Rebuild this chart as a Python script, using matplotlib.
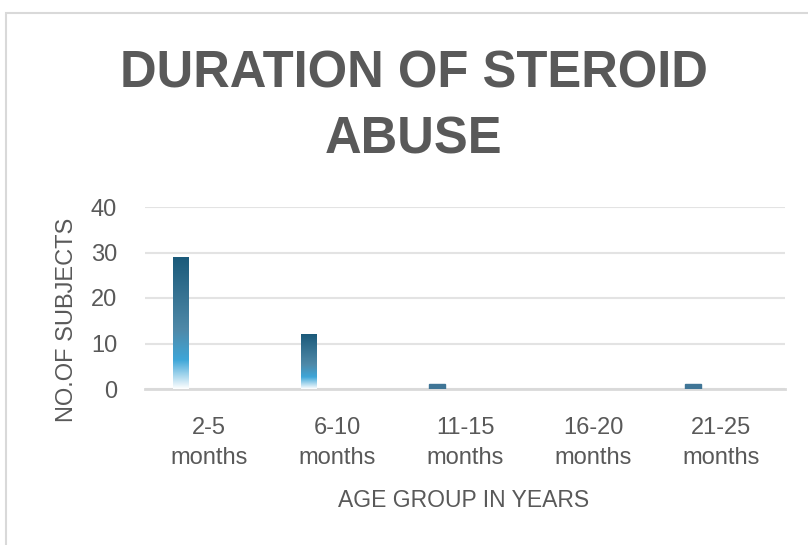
import matplotlib
matplotlib.use("Agg")
import matplotlib.pyplot as plt
import numpy as np
from matplotlib.colors import LinearSegmentedColormap
from matplotlib.patches import Rectangle

categories = ["2-5\nmonths", "6-10\nmonths", "11-15\nmonths", "16-20\nmonths", "21-25\nmonths"]
values = [29, 12, 1, 0, 1]
yticks = [0, 10, 20, 30, 40]

title_lines = ["DURATION OF STEROID", "ABUSE"]
xlabel = "AGE GROUP IN YEARS"
ylabel = "NO.OF SUBJECTS"

plt.rcParams['font.family'] = ['Liberation Sans', 'DejaVu Sans']
gray = "#595959"

fig = plt.figure(figsize=(8.08, 5.45), dpi=100)
fig.patches.append(Rectangle((6/808, -0.1), 1.2, (545-13)/545 + 0.1, transform=fig.transFigure,
                             fill=False, edgecolor="#d9d9d9", linewidth=1.5))

ax = fig.add_axes([145/808, (545-389)/545, 640/808, 182/545])
x = np.arange(len(categories))
offset = -0.22
width = 0.125

cmap = LinearSegmentedColormap.from_list("g", [(0.0, "#ffffff"), (0.22, "#3ea6d8"), (0.45, "#4f89a8"), (1.0, "#1b5a7a")])
grad = np.linspace(0, 1, 256).reshape(-1, 1)
bars = ax.bar(x + offset, values, width=width, color="none", edgecolor="none", zorder=3)
for b, v in zip(bars, values):
    if v <= 0:
        continue
    x0 = b.get_x()
    if v < 3:
        ax.add_patch(Rectangle((x0, 0), b.get_width(), v, color="#3f7596", zorder=3))
        continue
    im = ax.imshow(grad, extent=[x0, x0 + b.get_width(), 0, v], origin="lower",
                   aspect="auto", cmap=cmap, zorder=3)
    im.set_clip_path(b)

ax.set_xlim(-0.5, len(categories) - 0.5)
ax.set_ylim(0, 40)
ax.set_yticks(yticks)
ax.set_xticks(x)
ax.set_xticklabels(categories, fontsize=17, color=gray, linespacing=1.47)
ax.tick_params(axis="y", labelsize=17, labelcolor=gray, length=0, pad=20)
ax.tick_params(axis="x", length=0, pad=20)
ax.grid(axis="y", color="#e3e3e3", linewidth=1.5, zorder=0)
for s in ["top", "right", "left"]:
    ax.spines[s].set_visible(False)
ax.spines["bottom"].set_color("#d9d9d9")
ax.spines["bottom"].set_linewidth(2)
ax.set_axisbelow(True)

fig.text(414/808, 1 - 87/545, title_lines[0], ha="center", va="baseline",
         fontsize=36.5, fontweight="bold", color=gray)
fig.text(414/808, 1 - 153/545, title_lines[1], ha="center", va="baseline",
         fontsize=36.5, fontweight="bold", color=gray)
fig.text(464/808, 1 - 507/545, xlabel, ha="center", va="baseline", fontsize=16.5, color=gray)
fig.text(73/808, 1 - 320/545, ylabel, ha="center", va="baseline", rotation=90,
         rotation_mode="anchor", fontsize=17, color=gray)

fig.savefig("out.png", dpi=100)
